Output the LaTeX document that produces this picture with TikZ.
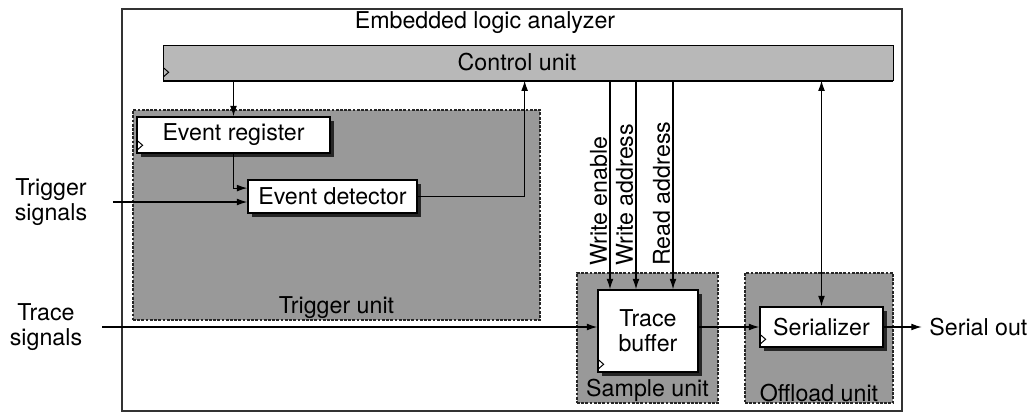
\documentclass[tikz,border=0pt]{standalone}
\usepackage{fontspec}
\setmainfont{TeX Gyre Heros}
\usetikzlibrary{arrows.meta,fit,positioning,shadows}
\tikzset{
  elaunit/.style={draw=black!85, line width=0.9pt, dash pattern=on 2pt off 1pt, fill=black!40, inner sep=0pt},
  elaclk/.style={path picture={\draw[line width=0.7pt] ([yshift=2pt]path picture bounding box.south west) -- ++(4pt,3.5pt) -- ++(-4pt,3.5pt);}},
  elactrl/.style={draw=black, line width=0.7pt, fill=black!28, inner sep=0pt, elaclk, general shadow={fill=black, shadow xshift=0pt, shadow yshift=-1.5pt}},
  elablk/.style={draw=black, line width=1pt, fill=white, align=center, inner sep=2pt, general shadow={fill=black!85, shadow xshift=3pt, shadow yshift=-3pt}},
  elaarr/.style={-{Latex[length=2.6mm,width=1.7mm]}, line width=0.8pt},
  elaarr2/.style={{Latex[length=2.6mm,width=1.7mm]}-{Latex[length=2.6mm,width=1.7mm]}, line width=0.8pt},
  elatxt/.style={align=center, inner sep=1pt}
}

\begin{document}
\begin{tikzpicture}[x=0.025cm, y=-0.025cm, font=\fontsize{16.5}{18}\selectfont]
  \useasboundingbox (0,0) rectangle (1032,415);
  % frame and bar
  \node[draw=black!80, line width=0.8pt, inner sep=0pt, fit={(122,9) (902,411)}] (ela) {};
  \node (title) at (485,23) {Embedded logic analyzer};
  \node[elactrl, fit={(163,45) (893,80)}] (ctrl) {};
  \node (ctrltxt) at ([xshift=-0.275cm]ctrl.center) {Control unit};
  % units
  \node[elaunit, fit={(133,110) (540,320)}, label={[anchor=south, inner sep=1pt]south:Trigger unit}] (trig) {};
  \node[elaunit, fit={(577,273) (718,403)}, label={[anchor=south, inner sep=1pt]south:Sample unit}] (smp) {};
  \node[elaunit, fit={(745,273) (893,403)}, label={[anchor=south, inner sep=1pt]south:Offload unit}] (off) {};
  % blocks
  \node[elablk, elaclk, minimum width=4.825cm, minimum height=0.9cm] (reg) at (233.5,135) {Event register};
  \node[elablk, minimum width=4.225cm, minimum height=0.825cm] (det) at (332.5,196.5) {Event detector};
  \node[elablk, elaclk, minimum width=2.5cm, minimum height=2.05cm] (buf) at (648,331) {Trace\\buffer};
  \node[elablk, elaclk, minimum width=3.075cm, minimum height=1cm] (ser) at (821.5,327) {Serializer};
  % outside signals
  \node[elatxt] (trigin) at (51,202) {Trigger\\signals};
  \node[elatxt] (trin) at (46,327) {Trace\\signals};
  \node[elatxt, right=1.1cm of ser] (out) {Serial out};
  % connections
  \draw[elaarr] (reg.north |- ctrl.south) -- (reg.north);
  \draw[elaarr] (reg.south) |- ([yshift=0.21cm]det.west);
  \draw[elaarr, shorten <=0.6cm] (trigin.east) -- (trigin.east -| det.west);
  \draw[elaarr] (det.east) -| ([xshift=-0.4cm]trig.east |- ctrl.south);
  \foreach \dx/\sig in {-0.95cm/Write enable, -0.3cm/Write address, 0.625cm/Read address}
    \draw[elaarr] ([xshift=\dx]buf.north |- ctrl.south) -- node[pos=0.9, rotate=90, anchor=south west, inner sep=1.5pt] {\sig} ([xshift=\dx]buf.north);
  \draw[elaarr2] (ser.north |- ctrl.south) -- (ser.north);
  \draw[elaarr, shorten <=0.46cm] (trin.east) -- (trin.east -| buf.west);
  \draw[elaarr] (buf.east |- ser.west) -- (ser.west);
  \draw[elaarr, shorten >=0.15cm] (ser.east) -- (out.west);
\end{tikzpicture}
\end{document}
